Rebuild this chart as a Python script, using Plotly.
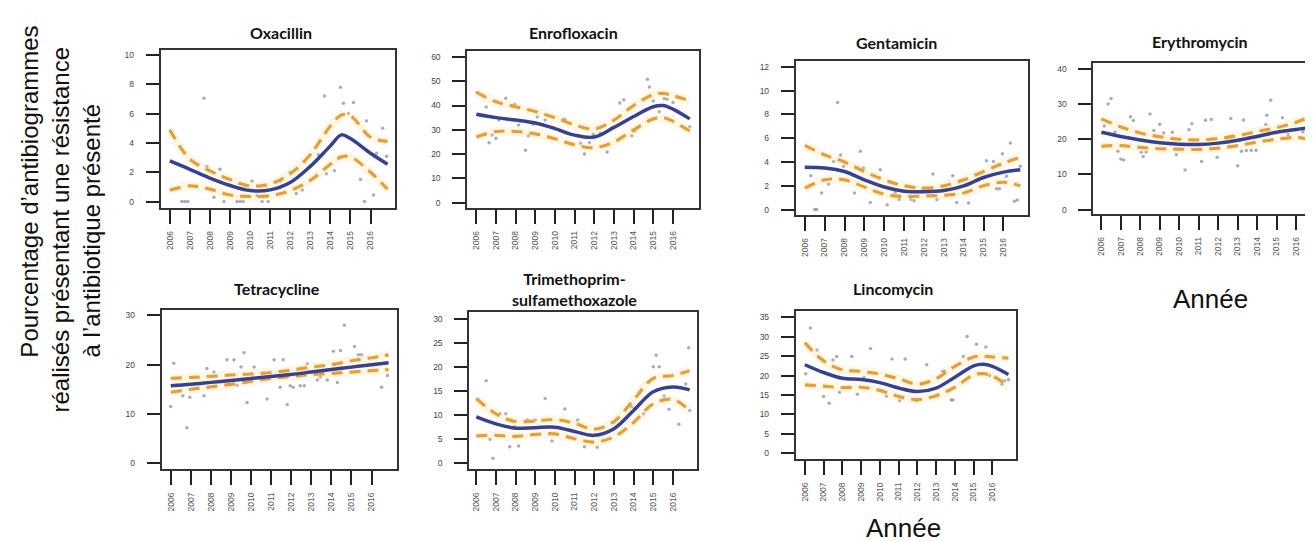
import plotly.graph_objects as go

W, H = 1313, 541

# ---------------- data ----------------
years = list(range(2006, 2017))
year_labels = [str(y) for y in years]

common_t = [2006, 2007, 2008, 2009, 2010, 2011, 2012, 2013, 2014, 2015, 2016, 2016.85]

# Oxacillin
oxa_t = [2006, 2007, 2008, 2009, 2010, 2011, 2012, 2013, 2014, 2014.55, 2015, 2016, 2016.85]
oxa_fit = [2.77, 2.2, 1.6, 1.1, 0.75, 0.8, 1.3, 2.4, 3.8, 4.55, 4.3, 3.3, 2.55]
oxa_hi = [4.9, 2.9, 2.1, 1.5, 1.07, 1.2, 1.9, 3.2, 5.15, 5.9, 5.85, 4.4, 4.1]
oxa_lo = [0.77, 1.07, 0.85, 0.45, 0.35, 0.4, 0.75, 1.45, 2.55, 3.05, 3.05, 2.0, 0.85]
oxa_px = [2006.6, 2006.75, 2006.9, 2007.7, 2007.85, 2008.2, 2008.5, 2008.7, 2009.35, 2009.5,
          2009.65, 2010.1, 2010.35, 2010.6, 2010.9, 2011.5, 2012.0, 2012.3, 2012.6, 2013.0,
          2013.4, 2013.7, 2013.8, 2014.2, 2014.5, 2014.65, 2014.9, 2015.15, 2015.5, 2015.7,
          2015.8, 2016.15, 2016.3, 2016.6, 2016.8]
oxa_py = [0, 0, 0, 7.05, 2.4, 0.3, 2.2, 0, 0, 0,
          0, 1.4, 0.4, 0, 0, 1.4, 2.0, 0.55, 0.8, 3.2,
          3.2, 7.2, 1.9, 2.1, 7.8, 6.7, 6.0, 6.75, 1.5, 0,
          5.5, 0.45, 3.3, 5.0, 3.1]

# Enrofloxacin
enro_t = [2006, 2007, 2008, 2009, 2010, 2011, 2012, 2013, 2014, 2015, 2015.5, 2016, 2016.85]
enro_fit = [36.4, 35.0, 34.0, 32.8, 30.5, 27.8, 27.0, 31.0, 35.5, 39.5, 40.0, 38.5, 34.5]
enro_hi = [45.5, 41.5, 39.5, 37.5, 35.0, 32.0, 30.3, 34.0, 40.0, 44.5, 45.0, 44.0, 42.0]
enro_lo = [27.0, 29.3, 29.3, 28.3, 26.3, 23.8, 22.6, 25.0, 30.0, 34.5, 35.0, 33.5, 29.5]
enro_px = [2006.05, 2006.5, 2006.65, 2006.8, 2007.0, 2007.15, 2007.5, 2007.95, 2008.15, 2008.5,
           2008.65, 2008.9, 2009.1, 2009.5, 2010.4, 2010.5, 2011.3, 2011.5, 2011.75, 2011.95,
           2012.3, 2012.65, 2013.3, 2013.5, 2013.9, 2014.05, 2014.7, 2014.8, 2015.0, 2015.3,
           2015.55, 2015.7, 2016.0, 2016.85]
enro_py = [45.3, 39.4, 24.7, 27.9, 26.5, 34, 43, 40.5, 32, 21.6,
           27.5, 32.3, 35.3, 34, 34, 34.3, 24.5, 20, 24.7, 28.2,
           28.6, 20.9, 41, 42.4, 27.5, 29.5, 50.8, 47.6, 41.9, 37.4,
           42.9, 42.6, 41.2, 31.2]

# Gentamicin
gent_fit = [3.56, 3.5, 3.2, 2.5, 1.9, 1.55, 1.5, 1.6, 2.0, 2.7, 3.15, 3.35]
gent_hi = [5.4, 4.6, 4.0, 3.2, 2.5, 2.0, 1.8, 2.0, 2.5, 3.2, 3.9, 4.4]
gent_lo = [1.8, 2.5, 2.5, 1.9, 1.3, 1.1, 1.15, 1.2, 1.4, 2.0, 2.3, 2.0]
gent_px = [2006.3, 2006.5, 2006.6, 2006.85, 2007.2, 2007.45, 2007.65, 2007.8, 2007.95, 2008.5,
           2008.8, 2008.95, 2009.3, 2009.8, 2010.15, 2010.55, 2010.75, 2011.35, 2011.5, 2011.95,
           2012.45, 2012.65, 2013.45, 2013.65, 2014.25, 2014.65, 2015.15, 2015.5, 2015.65, 2015.8,
           2015.95, 2016.15, 2016.35, 2016.55, 2016.7, 2016.85]
gent_py = [2.85, 0, 0, 1.4, 2.15, 4.05, 9.0, 4.6, 3.65, 1.4,
           4.9, 3.5, 0.6, 3.35, 0.4, 1.45, 0.85, 0.85, 0.75, 1.8,
           3.0, 0.85, 2.85, 0.6, 0.55, 2.95, 4.1, 4.05, 1.75, 1.75,
           4.7, 2.8, 5.6, 0.7, 0.8, 3.65]

# Erythromycin
ery_fit = [22.0, 20.8, 19.8, 19.0, 18.6, 18.5, 18.9, 19.7, 20.8, 22.0, 22.8, 23.4]
ery_hi = [25.8, 23.5, 21.8, 20.7, 20.0, 19.8, 20.2, 21.0, 22.2, 23.3, 24.8, 26.7]
ery_lo = [18.0, 18.2, 17.7, 17.3, 17.2, 17.1, 17.5, 18.2, 19.2, 20.0, 20.5, 19.8]
ery_px = [2006.15, 2006.35, 2006.5, 2006.7, 2006.85, 2007.0, 2007.15, 2007.5, 2007.65, 2008.05,
          2008.15, 2008.3, 2008.5, 2008.7, 2009.0, 2009.2, 2009.65, 2009.85, 2010.3, 2010.5,
          2010.65, 2011.15, 2011.35, 2011.65, 2011.95, 2012.65, 2013.0, 2013.2, 2013.3, 2013.45,
          2013.7, 2013.95, 2014.45, 2014.5, 2014.7, 2015.3, 2015.6, 2016.35, 2016.65, 2016.8,
          2016.9]
ery_py = [23.8, 30, 31.6, 22, 16.6, 14.4, 14.1, 26.4, 25.3, 16.3,
          15.1, 16.4, 27.2, 22.5, 24.3, 21.8, 22, 15.6, 11.3, 22.7,
          24.4, 13.7, 25.4, 25.6, 14.9, 25.9, 12.5, 16.6, 25.5, 16.8,
          16.9, 16.9, 24.2, 26.8, 31.1, 26.1, 21.3, 22.1, 19.1, 18.5,
          19.9]

# Tetracycline
tet_fit = [15.7, 16.0, 16.4, 16.8, 17.2, 17.6, 18.0, 18.5, 19.0, 19.5, 20.0, 20.4]
tet_hi = [17.2, 17.4, 17.6, 17.9, 18.1, 18.4, 18.9, 19.5, 20.0, 20.8, 21.4, 22.0]
tet_lo = [14.4, 15.0, 15.5, 16.0, 16.6, 17.2, 17.6, 18.0, 18.2, 18.5, 18.8, 19.0]
tet_px = [2006.0, 2006.15, 2006.6, 2006.8, 2006.95, 2007.65, 2007.8, 2008.15, 2008.8, 2009.15,
          2009.3, 2009.5, 2009.65, 2009.8, 2010.15, 2010.8, 2011.15, 2011.45, 2011.6, 2011.8,
          2011.95, 2012.1, 2012.45, 2012.65, 2012.8, 2013.3, 2013.45, 2013.8, 2014.1, 2014.3,
          2014.45, 2014.65, 2015.15, 2015.35, 2015.5, 2016.5, 2016.75, 2016.8]
tet_py = [11.5, 20.3, 13.7, 7.2, 13.4, 13.7, 19.2, 18.5, 21, 21,
          15.8, 19.5, 22.4, 12.3, 19.5, 13, 21, 15.4, 21, 11.9,
          15.7, 15.4, 15.7, 15.7, 20.2, 16.9, 17.5, 16.9, 22.7, 16.4,
          22.9, 28, 23.7, 22, 22, 15.4, 21.9, 17.8]

# Trimethoprim-sulfamethoxazole
tms_fit = [9.65, 8.2, 7.3, 7.4, 7.5, 6.6, 5.8, 7.2, 11.0, 14.9, 15.9, 15.3]
tms_hi = [13.5, 10.3, 8.7, 8.8, 9.1, 8.3, 7.1, 8.7, 13.2, 17.7, 18.3, 19.3]
tms_lo = [5.7, 5.8, 5.6, 6.0, 6.1, 5.1, 4.4, 5.5, 8.5, 12.4, 13.3, 10.9]
tms_px = [2006.5, 2006.7, 2006.85, 2007.2, 2007.5, 2007.7, 2007.95, 2008.15, 2008.6, 2009.0,
          2009.5, 2009.85, 2010.5, 2011.15, 2011.5, 2012.15, 2013.0, 2013.9, 2014.5, 2015.0,
          2015.15, 2015.3, 2015.55, 2015.8, 2016.3, 2016.65, 2016.8, 2016.85]
tms_py = [17.2, 5, 1.0, 10.3, 10.3, 3.4, 7.6, 3.6, 9, 9,
          13.5, 4.65, 11.3, 9, 3.4, 3.3, 8.6, 11.8, 10.3, 20.1,
          22.5, 20.1, 14, 11.25, 8.1, 16.5, 24.1, 11]

# Lincomycin
linc_t = [2006, 2007, 2008, 2009, 2010, 2011, 2012, 2013, 2014, 2015, 2015.5, 2016, 2016.85]
linc_fit = [22.8, 20.8, 19.3, 19.0, 18.2, 16.8, 15.9, 16.8, 19.6, 22.5, 22.9, 22.4, 20.3]
linc_hi = [28.5, 23.8, 21.5, 21.1, 20.4, 19.2, 17.8, 19.2, 22.4, 24.8, 25.0, 24.8, 24.5]
linc_lo = [17.6, 17.3, 16.9, 17.0, 16.2, 14.6, 13.8, 14.8, 17.0, 20.2, 20.5, 19.9, 17.3]
linc_px = [2006.05, 2006.3, 2006.65, 2007.0, 2007.3, 2007.5, 2007.7, 2007.85, 2008.5, 2008.8,
           2009.15, 2009.5, 2010.35, 2010.65, 2011.05, 2011.35, 2011.95, 2012.5, 2013.35, 2013.45,
           2013.8, 2013.9, 2014.45, 2014.65, 2015.15, 2015.65, 2015.85, 2016.5, 2016.65, 2016.85]
linc_py = [20.5, 32.3, 26.6, 14.6, 12.9, 24, 24.9, 15.7, 24.9, 15.2,
           19.5, 27, 14.7, 24.3, 13.5, 24.3, 13.5, 22.8, 21.1, 21.1,
           13.7, 13.7, 24.9, 30.1, 28.1, 27.4, 20, 17.8, 18.7, 18.9]

# ---------------- layout of panels (pixel boxes) ----------------
panels = [
    dict(title="Oxacillin", t=oxa_t, fit=oxa_fit, hi=oxa_hi, lo=oxa_lo, px=oxa_px, py=oxa_py,
         box=(153, 388, 42, 200), xr=(2005.552, 2017.24), yr=(-0.41, 10.34), dt=2, tpos=(273, 25)),
    dict(title="Enrofloxacin", t=enro_t, fit=enro_fit, hi=enro_hi, lo=enro_lo, px=enro_px, py=enro_py,
         box=(460, 692, 43, 200), xr=(2005.543, 2017.32), yr=(-2.05, 62.47), dt=10, tpos=(566, 25)),
    dict(title="Gentamicin", t=common_t, fit=gent_fit, hi=gent_hi, lo=gent_lo, px=gent_px, py=gent_py,
         box=(789, 1022, 53, 207), xr=(2005.548, 2017.26), yr=(-0.42, 12.5), dt=2, tpos=(890, 35)),
    dict(title="Erythromycin", t=common_t, fit=ery_fit, hi=ery_hi, lo=ery_lo, px=ery_px, py=ery_py,
         box=(1087, 1313, 55, 206), xr=(2005.59, 2017.18), yr=(-1.13, 41.7), dt=10, tpos=(1194, 34)),
    dict(title="Tetracycline", t=common_t, fit=tet_fit, hi=tet_hi, lo=tet_lo, px=tet_px, py=tet_py,
         box=(154, 390, 303, 462), xr=(2005.552, 2017.29), yr=(-1.22, 31.01), dt=10, tpos=(269, 281)),
    dict(title="Trimethoprim-<br>sulfamethoxazole", t=common_t, fit=tms_fit, hi=tms_hi, lo=tms_lo,
         px=tms_px, py=tms_py,
         box=(462, 690, 305, 462), xr=(2005.645, 2017.22), yr=(-1.25, 31.46), dt=5, tpos=(567, 282)),
    dict(title="Lincomycin", t=linc_t, fit=linc_fit, hi=linc_hi, lo=linc_lo, px=linc_px, py=linc_py,
         box=(789, 1010, 304, 452), xr=(2005.52, 2017.28), yr=(-1.54, 36.54), dt=5, tpos=(886, 281)),
]

BLUE = "#36428f"
ORANGE = "#e3a03a"
GLOW = "rgba(255,225,150,0.25)"
PTS = "rgba(140,145,160,0.75)"

fig = go.Figure()
layout_axes = {}
annotations = []

for i, p in enumerate(panels, start=1):
    xa = "x" if i == 1 else f"x{i}"
    ya = "y" if i == 1 else f"y{i}"
    x0, x1, y0, y1 = p["box"]

    fig.add_trace(go.Scatter(x=p["px"], y=p["py"], xaxis=xa, yaxis=ya, mode="markers",
                             marker=dict(size=3.5, color=PTS), hoverinfo="skip"))
    for band in (p["hi"], p["lo"]):
        fig.add_trace(go.Scatter(x=p["t"], y=band, xaxis=xa, yaxis=ya, mode="lines",
                                 line=dict(color=GLOW, width=9, shape="spline"), hoverinfo="skip"))
    for band in (p["hi"], p["lo"]):
        fig.add_trace(go.Scatter(x=p["t"], y=band, xaxis=xa, yaxis=ya, mode="lines",
                                 line=dict(color=ORANGE, width=3.2, dash="11px,7px", shape="spline")))
    fig.add_trace(go.Scatter(x=p["t"], y=p["fit"], xaxis=xa, yaxis=ya, mode="lines",
                             line=dict(color=BLUE, width=3.5, shape="spline")))

    xkey = "xaxis" if i == 1 else f"xaxis{i}"
    ykey = "yaxis" if i == 1 else f"yaxis{i}"
    layout_axes[xkey] = dict(
        domain=[x0 / W, min(x1 / W, 1.0)], range=list(p["xr"]), anchor=ya,
        tickmode="array", tickvals=years, ticktext=year_labels, tickangle=-90,
        ticks="outside", ticklen=14, tickwidth=1.6, tickcolor="#222",
        ticklabelstandoff=4,
        showline=True, linecolor="#333", linewidth=2, mirror=True,
        showgrid=False, zeroline=False,
        tickfont=dict(size=8.5, color="#555", family="Liberation Sans"),
    )
    layout_axes[ykey] = dict(
        domain=[1 - y1 / H, 1 - y0 / H], range=list(p["yr"]), anchor=xa,
        tickmode="linear", tick0=0, dtick=p["dt"],
        ticks="outside", ticklen=13, tickwidth=1.6, tickcolor="#222",
        ticklabelstandoff=10,
        showline=True, linecolor="#333", linewidth=2, mirror=True,
        showgrid=False, zeroline=False,
        tickfont=dict(size=8.5, color="#444", family="Liberation Sans"),
    )
    tx, ty = p["tpos"]
    annotations.append(dict(text=f"<b>{p['title']}</b>", x=tx / W, y=1 - ty / H,
                            xref="paper", yref="paper", showarrow=False,
                            xanchor="center", yanchor="middle",
                            font=dict(family="Lato", size=16, color="#111")))

# y-axis title (three lines) and "Année" labels
ytitle_lines = ["Pourcentage d’antibiogrammes",
                "réalisés présentant une résistance",
                "à l’antibiotique présenté"]
ytitle_pos = [(22, 184), (53, 222), (84, 223)]
for txt, (lx, ly) in zip(ytitle_lines, ytitle_pos):
    annotations.append(dict(text=txt, x=lx / W, y=1 - ly / H, xref="paper", yref="paper",
                            showarrow=False, textangle=-90, xanchor="center", yanchor="middle",
                            font=dict(family="Liberation Sans", size=24, color="#111")))

xtitle_text = "Année"
for lx, ly in [(1204, 292), (897, 521)]:
    annotations.append(dict(text=xtitle_text, x=lx / W, y=1 - ly / H, xref="paper", yref="paper",
                            showarrow=False, xanchor="center", yanchor="middle",
                            font=dict(family="Liberation Sans", size=26, color="#111")))

fig.update_layout(
    width=W, height=H, margin=dict(l=0, r=0, t=0, b=0),
    paper_bgcolor="white", plot_bgcolor="white",
    showlegend=False, annotations=annotations, **layout_axes,
)

fig.write_html("out.html")
